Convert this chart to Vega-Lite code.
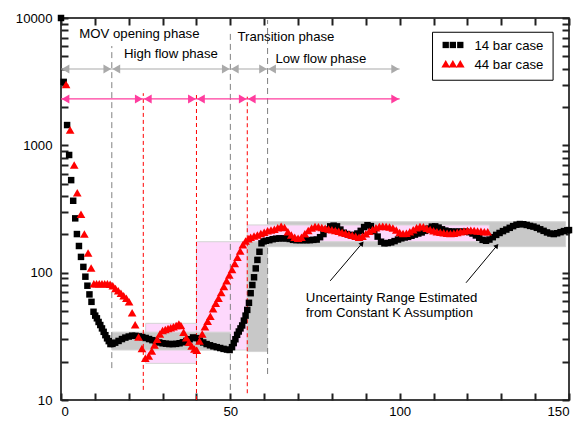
{
  "$schema": "https://vega.github.io/schema/vega-lite/v6.json",
  "width": 508,
  "height": 382,
  "autosize": {"type": "none"},
  "padding": {"left": 61, "top": 18, "right": 15, "bottom": 21},
  "background": "white",
  "config": {
    "view": {"stroke": "black", "strokeWidth": 1.5},
    "font": "Liberation Sans",
    "axis": {"domain": false, "grid": false, "labelFont": "Liberation Sans", "labelFontSize": 13.2, "labelColor": "black"}
  },
  "datasets": {
    "s14": [
      {"t":0,"v":10000},{"t":0.8,"v":3150},{"t":1.8,"v":1443},{"t":2.4,"v":840},{"t":3.0,"v":533},{"t":3.6,"v":367},{"t":4.2,"v":267},{"t":4.7,"v":201},{"t":5.3,"v":162},{"t":5.9,"v":133},{"t":6.6,"v":111},{"t":7.2,"v":93},{"t":7.8,"v":79},{"t":8.4,"v":67.5},{"t":9.0,"v":59},{"t":9.6,"v":49.3},{"t":10.1,"v":46},{"t":10.6,"v":43.8},{"t":11.1,"v":41},{"t":11.6,"v":38.8},{"t":12.1,"v":36.5},{"t":12.6,"v":34.3},{"t":13.1,"v":32.3},{"t":13.6,"v":30.5},{"t":14.1,"v":29},{"t":14.6,"v":27.5},
      {"t":15.2,"v":27.6},{"t":16,"v":28.2},{"t":17,"v":29.1},{"t":18,"v":30.1},{"t":19,"v":30.9},{"t":20,"v":31.5},{"t":21,"v":32},{"t":22,"v":31.9},{"t":23,"v":31.6},{"t":24,"v":31.2},{"t":25,"v":30.7},{"t":26,"v":30.1},{"t":27,"v":29.5},{"t":28,"v":28.9},{"t":29,"v":28.3},{"t":30,"v":27.9},{"t":31,"v":27.7},{"t":32,"v":27.5},{"t":33,"v":27.5},{"t":34,"v":27.6},{"t":35,"v":27.9},{"t":36,"v":28.4},{"t":37,"v":29.1},{"t":38,"v":30},{"t":39,"v":31},{"t":40,"v":30.6},{"t":41,"v":29.3},{"t":42,"v":28.3},{"t":43,"v":27.5},{"t":44,"v":26.9},{"t":45,"v":26.4},{"t":46,"v":26},{"t":47,"v":25.6},{"t":48,"v":25.2},{"t":49,"v":24.9},{"t":49.8,"v":24.7},
      {"t":50.5,"v":26},{"t":51,"v":28},{"t":51.5,"v":30},{"t":52,"v":32.5},{"t":52.5,"v":34.5},{"t":53,"v":36.5},{"t":53.5,"v":38.5},{"t":54,"v":42},{"t":54.5,"v":46},{"t":55,"v":51},{"t":55.5,"v":58},{"t":56,"v":69},{"t":56.5,"v":80},{"t":57,"v":92},{"t":57.5,"v":108},{"t":58,"v":126},{"t":58.6,"v":146},{"t":59.2,"v":170},{"t":59.8,"v":176},{"t":60.5,"v":178},
      {"t":61.5,"v":180},{"t":62.5,"v":183},{"t":63.5,"v":185},{"t":64.5,"v":186},{"t":65.5,"v":186},{"t":66.5,"v":186},{"t":67.5,"v":184},{"t":68.5,"v":181},{"t":69.5,"v":180},{"t":70.5,"v":180},{"t":71.5,"v":180},{"t":72.5,"v":180},{"t":73.5,"v":180},{"t":74.5,"v":181},{"t":75.5,"v":182},{"t":76.5,"v":190},{"t":77.5,"v":201},{"t":78.5,"v":218},{"t":79.5,"v":231},{"t":80.5,"v":234},{"t":81.5,"v":231},{"t":82.5,"v":218},{"t":83.5,"v":206},{"t":84.5,"v":201},{"t":85.5,"v":197},{"t":86.5,"v":198},{"t":87.5,"v":203},{"t":88.5,"v":213},{"t":89.5,"v":228},{"t":90.5,"v":236},{"t":91.5,"v":232},{"t":92.5,"v":212},{"t":93.5,"v":192},{"t":94.5,"v":175},{"t":95.5,"v":170},{"t":96.5,"v":171},{"t":97.5,"v":173},{"t":98.5,"v":177},{"t":99.5,"v":182},{"t":100.5,"v":186},{"t":101.5,"v":189},{"t":102.5,"v":191},{"t":103.5,"v":195},{"t":104.5,"v":199},{"t":105.5,"v":203},{"t":106.5,"v":207},{"t":107.5,"v":213},{"t":108.5,"v":222},{"t":109.5,"v":230},{"t":110.5,"v":231},{"t":111.5,"v":226},{"t":112.5,"v":219},{"t":113.5,"v":214},{"t":114.5,"v":211},{"t":115.5,"v":210},{"t":116.5,"v":210},{"t":117.5,"v":210},{"t":118.5,"v":210},{"t":119.5,"v":210},{"t":120.5,"v":208},{"t":121.5,"v":203},{"t":122.5,"v":196},{"t":123.5,"v":188},{"t":124.5,"v":181},{"t":125.5,"v":178},{"t":126.5,"v":182},{"t":127.5,"v":190},{"t":128.5,"v":198},{"t":129.5,"v":205},{"t":130.5,"v":212},{"t":131.5,"v":218},{"t":132.5,"v":225},{"t":133.5,"v":232},{"t":134.5,"v":238},{"t":135.5,"v":241},{"t":136.5,"v":240},{"t":137.5,"v":237},{"t":138.5,"v":233},{"t":139.5,"v":230},{"t":140.5,"v":225},{"t":141.5,"v":219},{"t":142.5,"v":213},{"t":143.5,"v":207},{"t":144.5,"v":203},{"t":145.5,"v":201},{"t":146.5,"v":204},{"t":147.5,"v":208},{"t":148.5,"v":212},{"t":149.5,"v":215},{"t":150,"v":216}
    ],
    "s44": [
      {"t":1.5,"v":3000},{"t":2.7,"v":1320},{"t":3.9,"v":700},{"t":4.8,"v":424},{"t":5.9,"v":288},{"t":6.9,"v":201},{"t":8.0,"v":143},{"t":8.9,"v":109},{"t":9.7,"v":82},{"t":10.5,"v":82},{"t":11.3,"v":82},{"t":12.1,"v":82},{"t":12.9,"v":82},{"t":13.7,"v":82},{"t":14.5,"v":81},{"t":15.3,"v":79},{"t":16.1,"v":75},{"t":16.9,"v":72},{"t":17.7,"v":69},{"t":18.5,"v":66},{"t":19.3,"v":63},{"t":20.1,"v":59},{"t":21,"v":48.5},{"t":21.9,"v":39},{"t":22.9,"v":31.2},{"t":23.9,"v":25.4},{"t":24.9,"v":21.3},{"t":25.9,"v":22.2},{"t":26.8,"v":24.3},{"t":27.6,"v":27},{"t":28.4,"v":30},{"t":29.2,"v":33},{"t":30,"v":35.2},{"t":30.8,"v":35.8},{"t":31.6,"v":36.4},{"t":32.4,"v":37},{"t":33.2,"v":37.6},{"t":34,"v":38.4},{"t":34.8,"v":39.5},{"t":35.4,"v":38.5},{"t":36.2,"v":34},{"t":37,"v":30.8},{"t":37.8,"v":28.4},{"t":38.6,"v":26.5},{"t":39.4,"v":25.2},{"t":40.1,"v":24.6},{"t":40.9,"v":29},{"t":41.7,"v":33},{"t":42.5,"v":37.6},{"t":43.3,"v":41.5},{"t":44.1,"v":45.4},{"t":44.9,"v":52},{"t":45.7,"v":57.5},{"t":46.5,"v":63},{"t":47.3,"v":70},{"t":48.1,"v":78},{"t":48.9,"v":86.5},{"t":49.7,"v":96},{"t":50.5,"v":106},{"t":51.3,"v":118},{"t":52.1,"v":132},{"t":52.9,"v":148},{"t":53.7,"v":166},{"t":54.5,"v":177},{"t":55.3,"v":185},
      {"t":56,"v":190},{"t":57,"v":194},{"t":58,"v":198},{"t":59,"v":203},{"t":60,"v":208},{"t":61,"v":213},{"t":62,"v":216},{"t":63,"v":219},{"t":64,"v":225},{"t":65,"v":232},{"t":66,"v":226},{"t":67,"v":210},{"t":68,"v":198},{"t":69,"v":190},{"t":70,"v":186},{"t":71,"v":190},{"t":72,"v":202},{"t":73,"v":214},{"t":74,"v":224},{"t":75,"v":230},{"t":76,"v":229},{"t":77,"v":226},{"t":78,"v":223},{"t":79,"v":220},{"t":80,"v":217},{"t":81,"v":214},{"t":82,"v":211},{"t":83,"v":207},{"t":84,"v":204},{"t":85,"v":200},{"t":86,"v":197},{"t":87,"v":193},{"t":88,"v":190},{"t":89,"v":193},{"t":90,"v":202},{"t":91,"v":211},{"t":92,"v":218},{"t":93,"v":225},{"t":94,"v":230},{"t":95,"v":231},{"t":96,"v":230},{"t":97,"v":228},{"t":98,"v":224},{"t":99,"v":216},{"t":100,"v":207},{"t":101,"v":203},{"t":102,"v":204},{"t":103,"v":210},{"t":104,"v":217},{"t":105,"v":225},{"t":106,"v":230},{"t":107,"v":229},{"t":108,"v":223},{"t":109,"v":218},{"t":110,"v":213},{"t":111,"v":210},{"t":112,"v":208},{"t":113,"v":206},{"t":114,"v":204},{"t":115,"v":203},{"t":116,"v":204},{"t":117,"v":207},{"t":118,"v":210},{"t":119,"v":212},{"t":120,"v":214},{"t":121,"v":215},{"t":122,"v":214},{"t":123,"v":212},{"t":124,"v":211},{"t":125,"v":210},{"t":126,"v":210}
    ],
    "bands": [
      {"case":"44 bar","a":25,"b":40,"lo":19.4,"hi":40},
      {"case":"44 bar","a":40,"b":55,"lo":24.7,"hi":175},
      {"case":"14 bar","a":15,"b":50,"lo":24.7,"hi":34.1},
      {"case":"14 bar","a":55,"b":61,"lo":24,"hi":175},
      {"case":"14 bar","a":61,"b":149,"lo":160,"hi":251},
      {"case":"44 bar","a":55,"b":126.5,"lo":175,"hi":237}
    ],
    "vlines": [
      {"case":"14 bar","t":15,"lo":17.8,"hi":6025},
      {"case":"14 bar","t":50,"lo":12,"hi":8050},
      {"case":"14 bar","t":61,"lo":16,"hi":9645},
      {"case":"44 bar","t":24.3,"lo":12,"hi":2566},
      {"case":"44 bar","t":40,"lo":10,"hi":2566},
      {"case":"44 bar","t":55,"lo":11.3,"hi":2410}
    ],
    "phases": [
      {"case":"14 bar","a":0,"b":15,"v":3975},
      {"case":"14 bar","a":15,"b":50,"v":3975},
      {"case":"14 bar","a":50,"b":61,"v":3975},
      {"case":"14 bar","a":61,"b":100,"v":3975},
      {"case":"44 bar","a":0,"b":24.3,"v":2313},
      {"case":"44 bar","a":24.3,"b":40,"v":2313},
      {"case":"44 bar","a":40,"b":55,"v":2313},
      {"case":"44 bar","a":55,"b":100,"v":2313}
    ],
    "labels": [
      {"t":5.4,"v":6960,"label":"MOV opening phase"},
      {"t":18.6,"v":4850,"label":"High flow phase"},
      {"t":52.1,"v":6590,"label":"Transition phase"},
      {"t":63.3,"v":4470,"label":"Low flow phase"},
      {"t":72.3,"v":59,"label":"Uncertainty Range Estimated"},
      {"t":72.3,"v":45.1,"label":"from Constant K Assumption"}
    ],
    "notes": [
      {"a":79.5,"av":86.3,"b":88.9,"bv":169.8},
      {"a":119.6,"av":83.3,"b":128.7,"bv":162.7}
    ],
    "legbox": [{"a":109.7,"b":145.3,"lo":3245,"hi":7728}],
    "legsym": [
      {"case":"14 bar","t":113.6,"v":6140},{"case":"14 bar","t":115.7,"v":6140},{"case":"14 bar","t":117.9,"v":6140},
      {"case":"44 bar","t":113.6,"v":4370},{"case":"44 bar","t":115.7,"v":4370},{"case":"44 bar","t":117.9,"v":4370}
    ],
    "legtext": [
      {"t":122.1,"v":5610,"label":"14 bar case"},
      {"t":122.1,"v":3975,"label":"44 bar case"}
    ]
  },
  "layer": [
    {
      "data": {"name": "bands"},
      "mark": {"type": "rect", "stroke": "#d4d4d4", "strokeWidth": 1},
      "encoding": {
        "x": {"field": "a", "type": "quantitative", "scale": {"domain": [0, 150], "nice": false},
              "axis": {"orient": "top", "title": null, "labels": false, "ticks": true, "tickColor": "#202020", "tickWidth": 2, "values": [0,10,20,30,40,50,60,70,80,90,100,110,120,130,140,150], "tickSize": 7, "offset": -7}},
        "x2": {"field": "b"},
        "y": {"field": "lo", "type": "quantitative", "scale": {"type": "log", "domain": [10, 10000], "nice": false},
              "axis": {"orient": "right", "title": null, "labels": false, "ticks": true, "tickColor": "#202020", "tickWidth": 2, "values": [10,20,30,40,50,60,70,80,90,100,200,300,400,500,600,700,800,900,1000,2000,3000,4000,5000,6000,7000,8000,9000,10000], "tickSize": 7, "offset": -7}},
        "y2": {"field": "hi"},
        "fill": {"condition": {"test": "datum.case == '14 bar'", "value": "#c8c8c8"}, "value": "#fdd8fc"}
      }
    },
    {
      "data": {"name": "vlines"},
      "mark": {"type": "rule", "strokeWidth": 1},
      "encoding": {
        "x": {"field": "t", "type": "quantitative", "scale": {"domain": [0, 150], "nice": false}, "axis": null},
        "y": {"field": "lo", "type": "quantitative", "scale": {"type": "log", "domain": [10, 10000], "nice": false}, "axis": null},
        "y2": {"field": "hi"},
        "color": {"condition": {"test": "datum.case == '14 bar'", "value": "#808080"}, "value": "#ff0000"},
        "strokeDash": {"condition": {"test": "datum.case == '14 bar'", "value": [6, 4]}, "value": [4, 3]}
      }
    },
    {
      "data": {"name": "phases"},
      "mark": {"type": "rule", "strokeWidth": 1.2},
      "encoding": {
        "x": {"field": "a", "type": "quantitative", "scale": {"domain": [0, 150], "nice": false}, "axis": null},
        "x2": {"field": "b"},
        "y": {"field": "v", "type": "quantitative", "scale": {"type": "log", "domain": [10, 10000], "nice": false}, "axis": null},
        "color": {"condition": {"test": "datum.case == '14 bar'", "value": "#aaaaaa"}, "value": "#ff3c9e"}
      }
    },
    {
      "data": {"name": "phases"},
      "mark": {"type": "point", "shape": "triangle-left", "filled": true, "size": 80, "xOffset": 4.5, "opacity": 1},
      "encoding": {
        "x": {"field": "a", "type": "quantitative", "scale": {"domain": [0, 150], "nice": false}, "axis": null},
        "y": {"field": "v", "type": "quantitative", "scale": {"type": "log", "domain": [10, 10000], "nice": false}, "axis": null},
        "color": {"condition": {"test": "datum.case == '14 bar'", "value": "#aaaaaa"}, "value": "#ff3c9e"}
      }
    },
    {
      "data": {"name": "phases"},
      "mark": {"type": "point", "shape": "triangle-right", "filled": true, "size": 80, "xOffset": -4.5, "opacity": 1},
      "encoding": {
        "x": {"field": "b", "type": "quantitative", "scale": {"domain": [0, 150], "nice": false}, "axis": null},
        "y": {"field": "v", "type": "quantitative", "scale": {"type": "log", "domain": [10, 10000], "nice": false}, "axis": null},
        "color": {"condition": {"test": "datum.case == '14 bar'", "value": "#aaaaaa"}, "value": "#ff3c9e"}
      }
    },
    {
      "data": {"name": "labels"},
      "mark": {"type": "text", "align": "left", "baseline": "alphabetic", "font": "Liberation Sans", "fontSize": 13.2, "color": "black"},
      "encoding": {
        "x": {"field": "t", "type": "quantitative", "scale": {"domain": [0, 150], "nice": false}, "axis": null},
        "y": {"field": "v", "type": "quantitative", "scale": {"type": "log", "domain": [10, 10000], "nice": false}, "axis": null},
        "text": {"field": "label"}
      }
    },
    {
      "data": {"name": "notes"},
      "mark": {"type": "rule", "strokeWidth": 1, "color": "black"},
      "encoding": {
        "x": {"field": "a", "type": "quantitative", "scale": {"domain": [0, 150], "nice": false}, "axis": null},
        "y": {"field": "av", "type": "quantitative", "scale": {"type": "log", "domain": [10, 10000], "nice": false}, "axis": null},
        "x2": {"field": "b"},
        "y2": {"field": "bv"}
      }
    },
    {
      "data": {"name": "notes"},
      "mark": {"type": "point", "shape": "triangle-up", "filled": true, "size": 30, "angle": 40, "color": "black", "opacity": 1},
      "encoding": {
        "x": {"field": "b", "type": "quantitative", "scale": {"domain": [0, 150], "nice": false}, "axis": null},
        "y": {"field": "bv", "type": "quantitative", "scale": {"type": "log", "domain": [10, 10000], "nice": false}, "axis": null}
      }
    },
    {
      "data": {"name": "s14"},
      "mark": {"type": "point", "shape": "square", "filled": true, "size": 42, "color": "black", "opacity": 1},
      "encoding": {
        "x": {"field": "t", "type": "quantitative", "scale": {"domain": [0, 150], "nice": false},
              "axis": {"orient": "bottom", "title": null, "values": [0,10,20,30,40,50,60,70,80,90,100,110,120,130,140,150], "labelExpr": "datum.value % 50 === 0 ? datum.label : ''", "labelOverlap": false, "ticks": true, "tickColor": "#202020", "tickWidth": 2, "labelPadding": 5, "tickSize": 7, "offset": -7}},
        "y": {"field": "v", "type": "quantitative", "scale": {"type": "log", "domain": [10, 10000], "nice": false},
              "axis": {"orient": "left", "title": null, "format": "d", "values": [10,20,30,40,50,60,70,80,90,100,200,300,400,500,600,700,800,900,1000,2000,3000,4000,5000,6000,7000,8000,9000,10000], "labelExpr": "(datum.value == 10 || datum.value == 100 || datum.value == 1000 || datum.value == 10000) ? datum.label : ''", "labelOverlap": false, "ticks": true, "tickColor": "#202020", "tickWidth": 2, "labelPadding": 9, "tickSize": 7, "offset": -7}}
      }
    },
    {
      "data": {"name": "s44"},
      "mark": {"type": "point", "shape": "triangle-up", "filled": true, "size": 75, "color": "#ff0000", "opacity": 1},
      "encoding": {
        "x": {"field": "t", "type": "quantitative", "scale": {"domain": [0, 150], "nice": false}, "axis": null},
        "y": {"field": "v", "type": "quantitative", "scale": {"type": "log", "domain": [10, 10000], "nice": false}, "axis": null}
      }
    },
    {
      "data": {"name": "legbox"},
      "mark": {"type": "rect", "fill": "white", "stroke": "black", "strokeWidth": 1},
      "encoding": {
        "x": {"field": "a", "type": "quantitative", "scale": {"domain": [0, 150], "nice": false}, "axis": null},
        "x2": {"field": "b"},
        "y": {"field": "lo", "type": "quantitative", "scale": {"type": "log", "domain": [10, 10000], "nice": false}, "axis": null},
        "y2": {"field": "hi"}
      }
    },
    {
      "data": {"name": "legsym"},
      "mark": {"type": "point", "filled": true, "opacity": 1},
      "encoding": {
        "x": {"field": "t", "type": "quantitative", "scale": {"domain": [0, 150], "nice": false}, "axis": null},
        "y": {"field": "v", "type": "quantitative", "scale": {"type": "log", "domain": [10, 10000], "nice": false}, "axis": null},
        "shape": {"condition": {"test": "datum.case == '14 bar'", "value": "square"}, "value": "triangle-up"},
        "size": {"condition": {"test": "datum.case == '14 bar'", "value": 40}, "value": 75},
        "color": {"condition": {"test": "datum.case == '14 bar'", "value": "black"}, "value": "#ff0000"}
      }
    },
    {
      "data": {"name": "legtext"},
      "mark": {"type": "text", "align": "left", "baseline": "alphabetic", "font": "Liberation Sans", "fontSize": 13.2, "color": "black"},
      "encoding": {
        "x": {"field": "t", "type": "quantitative", "scale": {"domain": [0, 150], "nice": false}, "axis": null},
        "y": {"field": "v", "type": "quantitative", "scale": {"type": "log", "domain": [10, 10000], "nice": false}, "axis": null},
        "text": {"field": "label"}
      }
    }
  ],
  "resolve": {"axis": {"x": "independent", "y": "independent"}}
}
